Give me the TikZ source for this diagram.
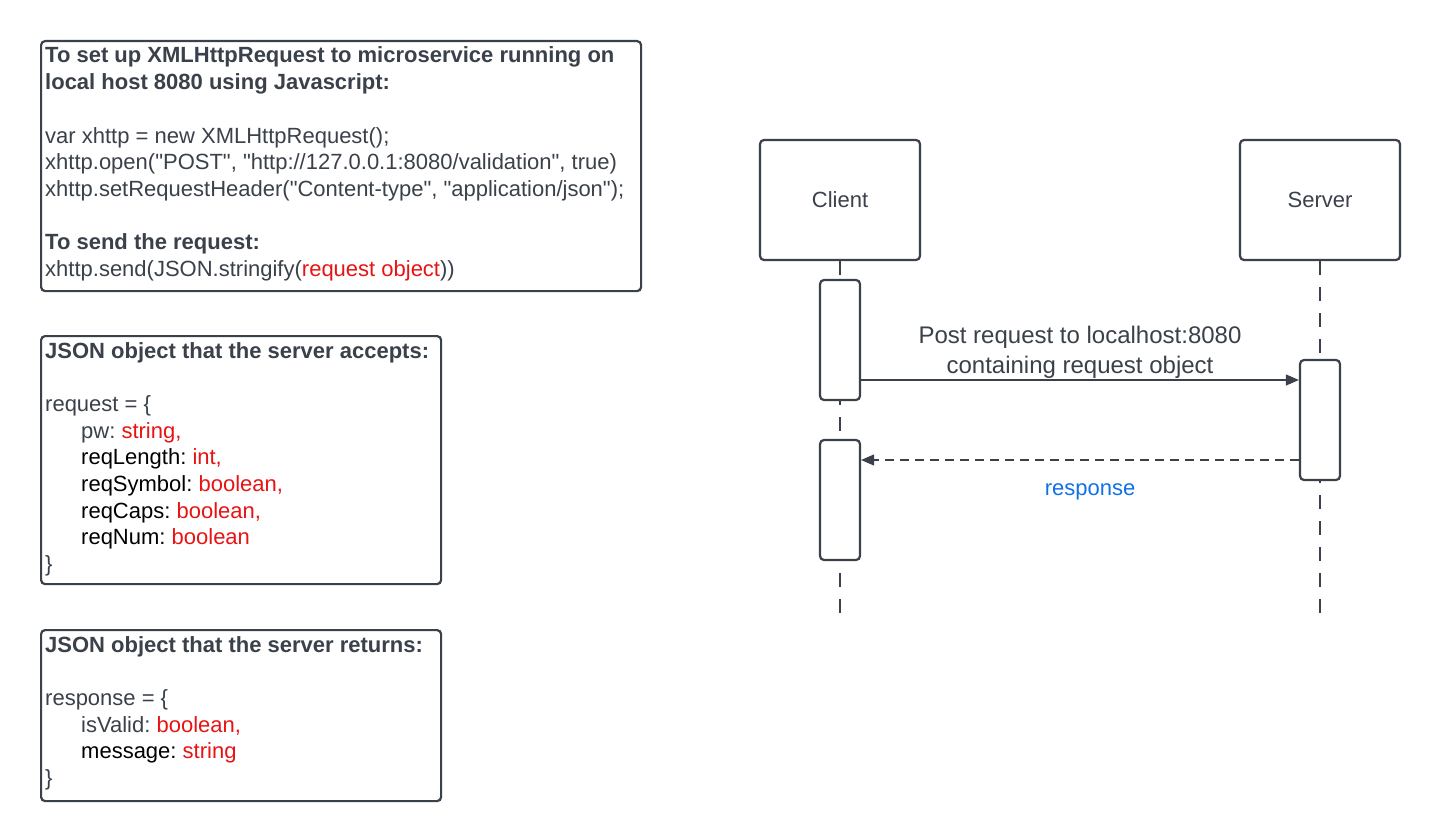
\documentclass[tikz,border=0pt]{standalone}
\usepackage{fontspec}
\setmainfont{Liberation Sans}[Ligatures=TeXOff]
\usetikzlibrary{arrows.meta}
\definecolor{ink}{HTML}{3A414A}
\definecolor{lred}{HTML}{E81313}
\definecolor{lblue}{HTML}{1071E5}
\newcommand{\fsn}{\fontsize{22}{26.67}\selectfont}
\newcommand{\fsl}{\fontsize{24}{30}\selectfont}
\frenchspacing
\begin{document}
\frenchspacing
\begin{tikzpicture}[x=1pt,y=-1pt,
  panel/.style={draw=ink, line width=2.2pt, rounded corners=4pt, fill=white, inner sep=0pt, anchor=north west},
  ln/.style={anchor=base west, inner sep=0pt, font=\fsn, text=ink},
  lnb/.style={ln, font=\fsn\bfseries},
  lnk/.style={ln, text=black},
  actor/.style={draw=ink, line width=2.2pt, rounded corners=4pt, fill=white, minimum width=160pt, minimum height=120pt, inner sep=0pt, font=\fsn, text=ink},
  act/.style={draw=ink, line width=2.2pt, rounded corners=4pt, fill=white, minimum width=40pt, minimum height=120pt, inner sep=0pt},
  lifeline/.style={draw=ink, line width=2.2pt, dash pattern=on 14pt off 12pt},
  msg/.style={draw=ink, line width=1.1pt, -{Triangle[length=13pt,width=11pt]}},
  reply/.style={msg, dash pattern=on 9pt off 6pt},
  lbl/.style={inner sep=0pt, anchor=base, font=\fsl, text=ink}
]
\useasboundingbox (0,0) rectangle (1440,840);
\fill[white] (0,0) rectangle (1440,840);

% ---------- left panels ----------
\node[panel, minimum width=600pt, minimum height=250pt] (p1) at (40,40) {};
\node[lnb] (a1) at (45,63) {To set up XMLHttpRequest to microservice running on};
\node[lnb] (a2) at (45,89.7) {local host 8080 using Javascript:};
\node[ln]  (a3) at (45,143) {var xhttp = new XMLHttpRequest();};
\node[ln]  (a4) at (45,169.7) {xhttp.open("POST", "http://127.0.0.1:8080/validation", true)};
\node[ln]  (a5) at (45,196.3) {xhttp.setRequestHeader("Content-type", "application/json");};
\node[lnb] (a6) at (45,249.7) {To send the request:};
\node[ln]  (a7) at (45,276.3) {xhttp.send(JSON.stringify(\textcolor{lred}{request object}))};

\node[panel, minimum width=400pt, minimum height=248pt] (p2) at (40,335) {};
\node[lnb] (b1) at (45,358) {JSON object that the server accepts:};
\node[ln]  (b2) at (45,411.3) {request = \{};
\node[ln]  (b3) at (81,438) {pw: \textcolor{lred}{string,}};
\node[lnk] (b4) at (81,464.7) {reqLength: \textcolor{lred}{int,}};
\node[lnk] (b5) at (81,491.3) {reqSymbol: \textcolor{lred}{boolean,}};
\node[lnk] (b6) at (81,518) {reqCaps: \textcolor{lred}{boolean,}};
\node[lnk] (b7) at (81,544.7) {reqNum: \textcolor{lred}{boolean}};
\node[ln]  (b8) at (45,571.3) {\}};

\node[panel, minimum width=400pt, minimum height=171pt] (p3) at (40,629) {};
\node[lnb] (c1) at (45,652) {JSON object that the server returns:};
\node[ln]  (c2) at (45,705.3) {response = \{};
\node[ln]  (c3) at (81,732) {isValid: \textcolor{lred}{boolean,}};
\node[lnk] (c4) at (81,758.7) {message: \textcolor{lred}{string}};
\node[ln]  (c5) at (45,785.3) {\}};

% ---------- sequence diagram ----------
\node[actor] (client) at (840,200) {Client};
\node[actor] (server) at (1320,200) {Server};
\coordinate (clientEnd) at (840,620);
\coordinate (serverEnd) at (1320,620);
\draw[lifeline] (client.south) -- (clientEnd);
\draw[lifeline] (server.south) -- (serverEnd);

\node[act] (ca1) at (840,340) {};
\node[act] (ca2) at (840,500) {};
\node[act] (sa1) at (1320,420) {};

\coordinate (y1) at (0,380);
\coordinate (y2) at (0,460);
\draw[msg] (ca1.east |- y1) -- (sa1.west |- y1);
\draw[reply] (sa1.west |- y2) -- (ca2.east |- y2);

\node[lbl] (m1) at (1080,343) {Post request to localhost:8080};
\node[lbl] (m2) at (1080,373) {containing request object};
\node[lbl, font=\fsn, text=lblue] (m3) at (1090,495) {response};
\end{tikzpicture}
\end{document}
